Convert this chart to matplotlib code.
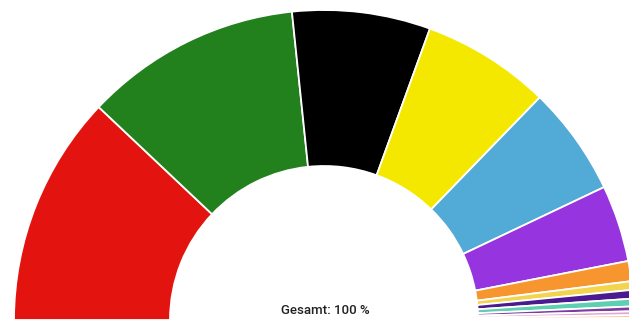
import matplotlib
matplotlib.use("Agg")
import matplotlib.pyplot as plt

parties = ["SPD", "Grüne", "CDU", "FDP", "AfD", "Linke", "P7", "P8", "P9", "P10", "P11", "P12", "P13", "P14"]
shares = [24.1, 22.6, 14.4, 13.4, 11.4, 8.0, 2.1, 0.9, 0.9, 0.8, 0.5, 0.4, 0.3, 0.2]
colors = ["#E3140F", "#22801D", "#000000", "#F5E800", "#52AAD6", "#9634E0",
          "#F7962E", "#F2D44E", "#4A1A8E", "#5ECFB2", "#7A3E9E", "#E8A4D4", "#F5C28C", "#DDDDDD"]
total_label = "Gesamt: 100 %"

fig = plt.figure(figsize=(6.29, 3.23), dpi=100)
ax = fig.add_axes([0, 0, 1, 1])
vals = shares + [sum(shares)]
cols = colors + ["none"]
wedges, _ = ax.pie(vals, colors=cols, center=(324, 3), radius=310, startangle=180,
                   counterclock=False,
                   wedgeprops=dict(width=156, edgecolor="white", linewidth=1.3))
wedges[-1].set_edgecolor("none")
ax.set_xlim(0, 629)
ax.set_ylim(0, 323)
ax.set_aspect("equal")
ax.axis("off")
ax.text(325, 12, total_label, ha="center", va="center", fontsize=9.5,
        family="Roboto", color="#222222", fontweight="medium")
fig.savefig("out.png", dpi=100)
